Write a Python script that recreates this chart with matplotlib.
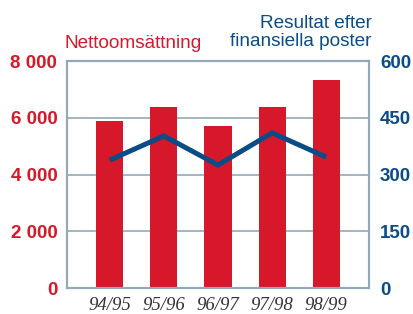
import matplotlib.pyplot as plt
import numpy as np

YEARS = ['94/95', '95/96', '96/97', '97/98', '98/99']
SALES = [5900, 6380, 5700, 6380, 7330]      # Nettoomsättning, left axis
RESULT = [338, 402, 325, 410, 346]          # Resultat efter finansiella poster, right axis

LEFT_TICKS = [0, 2000, 4000, 6000, 8000]
LEFT_LABELS = ['0', '2 000', '4 000', '6 000', '8 000']
RIGHT_TICKS = [0, 150, 300, 450, 600]

RED = '#d7182a'
BLUE = '#0b4c86'
FRAME = '#93a9b8'

fig = plt.figure(figsize=(4.14, 3.14), dpi=100)
ax = fig.add_axes([0.1618, 0.0828, 0.7295, 0.7229])
ax2 = ax.twinx()

x = np.arange(len(YEARS))
ax.bar(x, SALES, width=0.5, color=RED, zorder=2)
ax.set_ylim(0, 8000)
ax.set_xlim(-0.79, 4.79)
ax.set_yticks(LEFT_TICKS)
ax.set_yticklabels(LEFT_LABELS)
ax.yaxis.grid(True, color=FRAME, linewidth=1.2, zorder=0)
ax.set_axisbelow(True)

ax2.plot(x, RESULT, color=BLUE, linewidth=3.6, solid_capstyle='butt',
         solid_joinstyle='miter', zorder=3)
ax2.set_ylim(0, 600)
ax2.set_yticks(RIGHT_TICKS)

for a in (ax, ax2):
    for s in a.spines.values():
        s.set_color(FRAME)
        s.set_linewidth(1.5)
    a.tick_params(length=0)

ax.set_xticks(x)
ax.set_xticklabels(YEARS, fontfamily='Liberation Serif', fontstyle='italic',
                   fontsize=13.5, color='#333333')
ax.tick_params(axis='x', pad=6.5)
for lbl in ax.get_yticklabels():
    lbl.set_fontfamily('Liberation Sans')
    lbl.set_fontweight('bold')
    lbl.set_fontsize(13.5)
    lbl.set_color(RED)
ax.tick_params(axis='y', pad=7)
for lbl in ax2.get_yticklabels():
    lbl.set_fontfamily('Liberation Sans')
    lbl.set_fontweight('bold')
    lbl.set_fontsize(13.5)
    lbl.set_color(BLUE)
ax2.tick_params(axis='y', pad=8)

fig.text(65 / 414, 1 - 48 / 314, 'Nettoomsättning', color=RED,
         fontfamily='Liberation Sans', fontsize=13.7, va='baseline', ha='left')
fig.text(372 / 414, 1 - 28 / 314, 'Resultat efter', color=BLUE,
         fontfamily='Liberation Sans', fontsize=13.7, va='baseline', ha='right')
fig.text(372 / 414, 1 - 46 / 314, 'finansiella poster', color=BLUE,
         fontfamily='Liberation Sans', fontsize=13.7, va='baseline', ha='right')

fig.savefig('out.png', dpi=100)
